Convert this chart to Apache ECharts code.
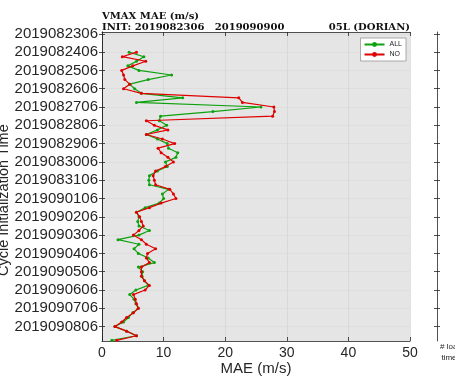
<!DOCTYPE html>
<html><head><meta charset="utf-8">
<script src="https://cdn.jsdelivr.net/npm/echarts@6/dist/echarts.min.js"></script>
<style>html,body{margin:0;padding:0;background:#fff}#c{width:455px;height:377px}</style>
</head><body><div id="c"></div>
<script>
// cycle labels shown on the y axis (every 4th 6-hourly cycle)
var tickLabels = ['2019082306','2019082406','2019082506','2019082606','2019082706','2019082806','2019082906','2019083006','2019083106','2019090106','2019090206','2019090306','2019090406','2019090506','2019090606','2019090706','2019090806'];
var firstDataCycle = 4; // first plotted cycle index (2019082406)
// MAE values (m/s), one per 6-hourly cycle from 2019082406
var allMAE = [4.4,6.8,5.6,4.2,6.0,11.3,7.5,4.5,5.3,6.4,13.1,5.6,25.8,18.0,9.5,9.3,
  10.5,9.0,7.2,9.0,10.6,10.8,12.3,12.0,10.3,10.6,9.0,7.7,7.6,7.7,10.8,9.8,
  10.0,9.3,7.0,5.6,6.0,5.8,6.0,7.7,6.0,2.6,6.0,5.2,5.9,7.5,8.5,5.9,
  6.6,6.5,6.9,7.5,5.5,4.5,5.2,5.5,5.9,5.0,4.3,3.5,2.1,4.0,5.6,1.6];
var noMAE = [5.6,3.3,7.1,5.0,3.2,3.5,3.7,4.5,3.5,6.4,22.2,22.8,27.9,28.0,27.7,7.2,
  8.5,10.7,7.2,9.8,11.8,9.1,9.6,10.7,11.6,10.3,8.7,8.3,8.5,8.7,11.0,11.6,
  12.0,9.6,7.7,5.6,6.1,6.4,6.7,6.0,5.1,6.4,7.2,8.7,7.4,7.2,7.7,6.4,
  6.4,6.4,6.9,7.7,7.0,5.1,5.4,5.6,5.9,5.1,4.0,3.2,2.1,4.0,5.6,2.4];
var xTicks = [0,10,20,30,40,50];

function pairs(vals){ return vals.map(function(v,k){ return [v, firstDataCycle + k]; }); }
var tickPos = tickLabels.map(function(_,k){ return k*4; });

var chart = echarts.init(document.getElementById('c'), null, {renderer:'canvas'});
var txt = '#262626';
var axisCol = '#262626';
var yBase = {
  type:'value', inverse:true, min:-0.4, max:67.15,
  axisLine:{show:true, lineStyle:{color:axisCol, width:0.8}},
  axisTick:{show:true, inside:true, length:3, customValues:tickPos, lineStyle:{color:axisCol, width:0.8}},
  splitLine:{show:false}
};
chart.setOption({
  animation:false,
  backgroundColor:'#fff',
  grid:[{left:102, right:45, top:32, bottom:36, show:true, backgroundColor:'#e5e5e5', borderWidth:0, outerBoundsMode:'none', containLabel:false},
        {left:437, width:1, top:32, bottom:36, show:false, outerBoundsMode:'none', containLabel:false}],
  legend:{
    data:['ALL','NO'], orient:'vertical', right:49, top:38,
    backgroundColor:'#fff', borderColor:'#8a8a8a', borderWidth:0.7, padding:[3,4,3,3],
    itemWidth:20, itemHeight:6, itemGap:3,
    textStyle:{fontSize:7, color:txt, fontFamily:'Liberation Sans'}
  },
  xAxis:[
    {type:'value', gridIndex:0, min:xTicks[0], max:xTicks[xTicks.length-1], interval:10, position:'bottom',
     axisLine:{show:true, onZero:false, lineStyle:{color:axisCol, width:0.8}},
     axisTick:{show:true, inside:true, length:4, lineStyle:{color:axisCol, width:0.8}},
     axisLabel:{fontSize:14, color:txt, margin:5, fontFamily:'Liberation Sans'},
     splitLine:{show:true, lineStyle:{color:'#d2d2d2', width:0.7}},
     name:'MAE (m/s)', nameLocation:'middle', nameGap:20, nameMoveOverlap:false,
     nameTextStyle:{fontSize:15, color:txt, fontFamily:'Liberation Sans'}},
    {type:'value', gridIndex:0, min:xTicks[0], max:xTicks[xTicks.length-1], interval:10, position:'top',
     axisLine:{show:true, onZero:false, lineStyle:{color:axisCol, width:0.8}},
     axisTick:{show:true, inside:true, length:4, lineStyle:{color:axisCol, width:0.8}},
     axisLabel:{show:false}, splitLine:{show:false}},
    {type:'value', gridIndex:1, min:0, max:1, show:false}
  ],
  yAxis:[
    Object.assign({}, yBase, {gridIndex:0, position:'left',
      axisLabel:{show:true, customValues:tickPos, fontSize:15, color:txt, margin:4, fontFamily:'Liberation Sans',
        formatter:function(v){ return tickLabels[Math.round(v/4)]; }},
      splitLine:{show:true, lineStyle:{color:'#d8d8d8', width:0.6}}}),
    Object.assign({}, yBase, {gridIndex:0, position:'right', axisLabel:{show:false}}),
    Object.assign({}, yBase, {gridIndex:1, position:'left', axisLabel:{show:false},
      axisTick:{show:true, inside:false, length:3, customValues:tickPos, lineStyle:{color:axisCol, width:0.8}}}),
    Object.assign({}, yBase, {gridIndex:1, position:'left', axisLabel:{show:false}, axisLine:{show:false},
      axisTick:{show:true, inside:true, length:3, customValues:tickPos, lineStyle:{color:axisCol, width:0.8}}})
  ],
  series:[
    {name:'ALL', type:'line', xAxisIndex:0, yAxisIndex:0, data:pairs(allMAE),
     color:'#0ea10e', symbol:'circle', symbolSize:3, showSymbol:true,
     lineStyle:{width:1.2, color:'#0ea10e'}, itemStyle:{color:'#0ea10e'}, z:3},
    {name:'NO', type:'line', xAxisIndex:0, yAxisIndex:0, data:pairs(noMAE),
     color:'#e00000', symbol:'circle', symbolSize:3, showSymbol:true,
     lineStyle:{width:1.2, color:'#e00000'}, itemStyle:{color:'#e00000'}, z:4}
  ],
  graphic:[
    {type:'text', left:102, top:11, style:{text:'VMAX MAE (m/s)', font:'bold 10px "DejaVu Serif"', fill:'#111'}},
    {type:'text', left:102, top:22, style:{text:'INIT: 2019082306   2019090900', font:'bold 10px "DejaVu Serif"', fill:'#111'}},
    {type:'text', right:45, top:22, style:{text:'05L (DORIAN)', font:'bold 10px "DejaVu Serif"', fill:'#111', align:'right'}},
    {type:'text', x:-4, y:276, rotation:Math.PI/2, style:{text:'Cycle Initialization Time', font:'14.5px "Liberation Sans"', fill:txt}},
    {type:'text', x:451, y:341, style:{text:'# load\ntimes', font:'8px "Liberation Sans"', fill:txt, align:'center', lineHeight:11}}
  ]
});
</script></body></html>
